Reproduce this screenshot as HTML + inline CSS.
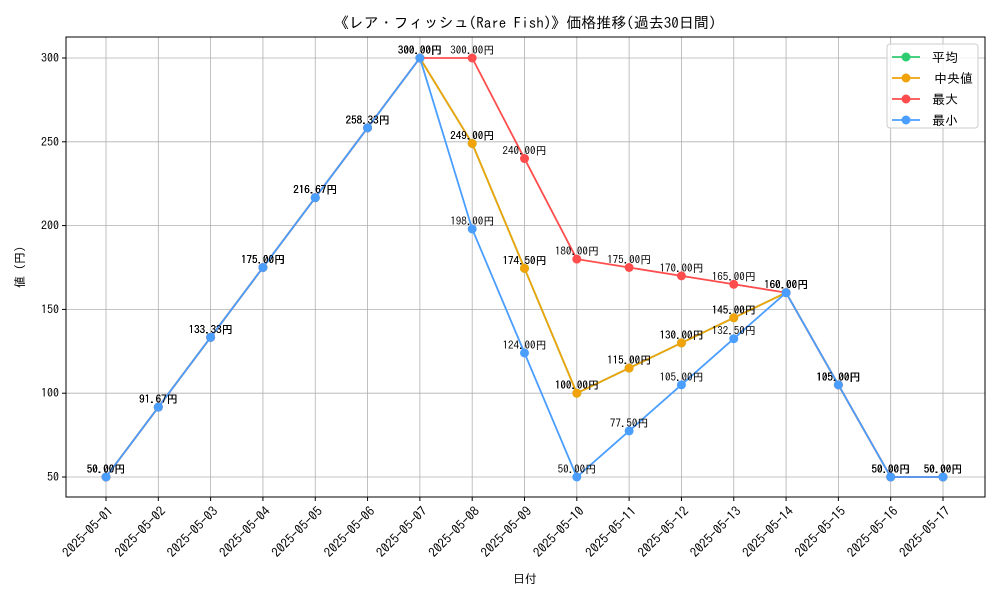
<!DOCTYPE html>
<html><head><meta charset="utf-8"><style>
body{margin:0;background:#fff}
text{font-family:"IPAGothic","Noto Sans CJK JP",sans-serif;fill:#000}
</style></head><body>
<svg id="chart" width="1000" height="600" xmlns="http://www.w3.org/2000/svg">
<rect width="1000" height="600" fill="#fff"/>
<text x="525" y="28" font-size="15" text-anchor="middle">《レア・フィッシュ(Rare Fish)》価格推移(過去30日間)</text>
<g id="grid"></g><g id="axes"></g><g id="series"></g>
<text x="525" y="583" font-size="12" text-anchor="middle">日付</text>
<text transform="translate(24,267) rotate(-90)" font-size="12" text-anchor="middle">値 (円)</text>
<g id="legend"></g>
</svg>
<script>
const dates=["2025-05-01","2025-05-02","2025-05-03","2025-05-04","2025-05-05","2025-05-06","2025-05-07","2025-05-08","2025-05-09","2025-05-10","2025-05-11","2025-05-12","2025-05-13","2025-05-14","2025-05-15","2025-05-16","2025-05-17"];
const avgVals=[50,91.67,133.33,175,216.67,258.33,300,249,174.5,100,115,130,145,160,105,50,50];
const medVals=[50,91.67,133.33,175,216.67,258.33,300,249,174.5,100,115,130,145,160,105,50,50];
const maxVals=[50,91.67,133.33,175,216.67,258.33,300,300,240,180,175,170,165,160,105,50,50];
const minVals=[50,91.67,133.33,175,216.67,258.33,300,198,124,50,77.5,105,132.5,160,105,50,50];
const yTicks=[50,100,150,200,250,300];
const seriesNames=["平均","中央値","最大","最小"];
const NS="http://www.w3.org/2000/svg";
const L=66,R=985,T=37,B=497;
const x=i=>106+i*(943-106)/(dates.length-1);
const y=v=>477-(v-50)*(477-58)/250;
function mk(tag,attrs,parent,txt){const e=document.createElementNS(NS,tag);for(const k in attrs)e.setAttribute(k,attrs[k]);if(txt!==undefined)e.textContent=txt;parent.appendChild(e);return e;}
const grid=document.getElementById('grid'),axes=document.getElementById('axes'),ser=document.getElementById('series'),leg=document.getElementById('legend');
dates.forEach((d,i)=>{
 const g=mk('line',{x1:x(i),x2:x(i),y1:T,y2:B,stroke:'#b0b0b0','stroke-width':0.8},grid);
 
 mk('line',{x1:x(i),x2:x(i),y1:B,y2:B+4,stroke:'#000'},axes);
 const ax=x(i)+8,ay=B+15;
 const t=mk('text',{x:ax,y:ay,'font-size':13,'text-anchor':'end',transform:`rotate(-45 ${ax} ${ay})`},axes,d);
 
});
yTicks.forEach(v=>{
 const g=mk('line',{x1:L,x2:R,y1:y(v),y2:y(v),stroke:'#b0b0b0','stroke-width':0.8},grid);
 
 mk('line',{x1:L-4,x2:L,y1:y(v),y2:y(v),stroke:'#000'},axes);
 const t=mk('text',{x:L-7,y:y(v)+4,'font-size':12,'text-anchor':'end'},axes,v);
 
});
const frame=mk('rect',{x:L,y:T,width:R-L,height:B-T,fill:'none',stroke:'#000','stroke-width':1},axes);

const all=[avgVals,medVals,maxVals,minVals],cols=['#2ecc71','#f0a30a','#ff4d4d','#4a9eff'],keys=['average','median','max','min'];
all.forEach((vals,s)=>{
 const g=mk('g',{},ser);
 const p=mk('polyline',{points:vals.map((v,i)=>x(i)+','+y(v)).join(' '),fill:'none',stroke:cols[s],'stroke-width':1.8},g);
 
 vals.forEach((v,i)=>{
  const c=mk('circle',{cx:x(i),cy:y(v),r:4.5,fill:cols[s]},g);
  
  const t=mk('text',{x:x(i),y:y(v)-4,'font-size':11,'text-anchor':'middle'},g,v.toFixed(2)+'円');
  
 });
});
mk('rect',{x:887,y:44,width:91,height:84,rx:3,fill:'#fff','fill-opacity':0.8,stroke:'#ccc'},leg);
seriesNames.forEach((n,s)=>{
 const yy=57+s*21;
 const e=mk('g',{},leg);
 mk('line',{x1:892,x2:920,y1:yy,y2:yy,stroke:cols[s],'stroke-width':1.8},e);
 mk('circle',{cx:906,cy:yy,r:4.5,fill:cols[s]},e);
 mk('text',{x:s==1?934:932,y:yy+5,'font-size':13},e,n);
});
</script>
</body></html>
